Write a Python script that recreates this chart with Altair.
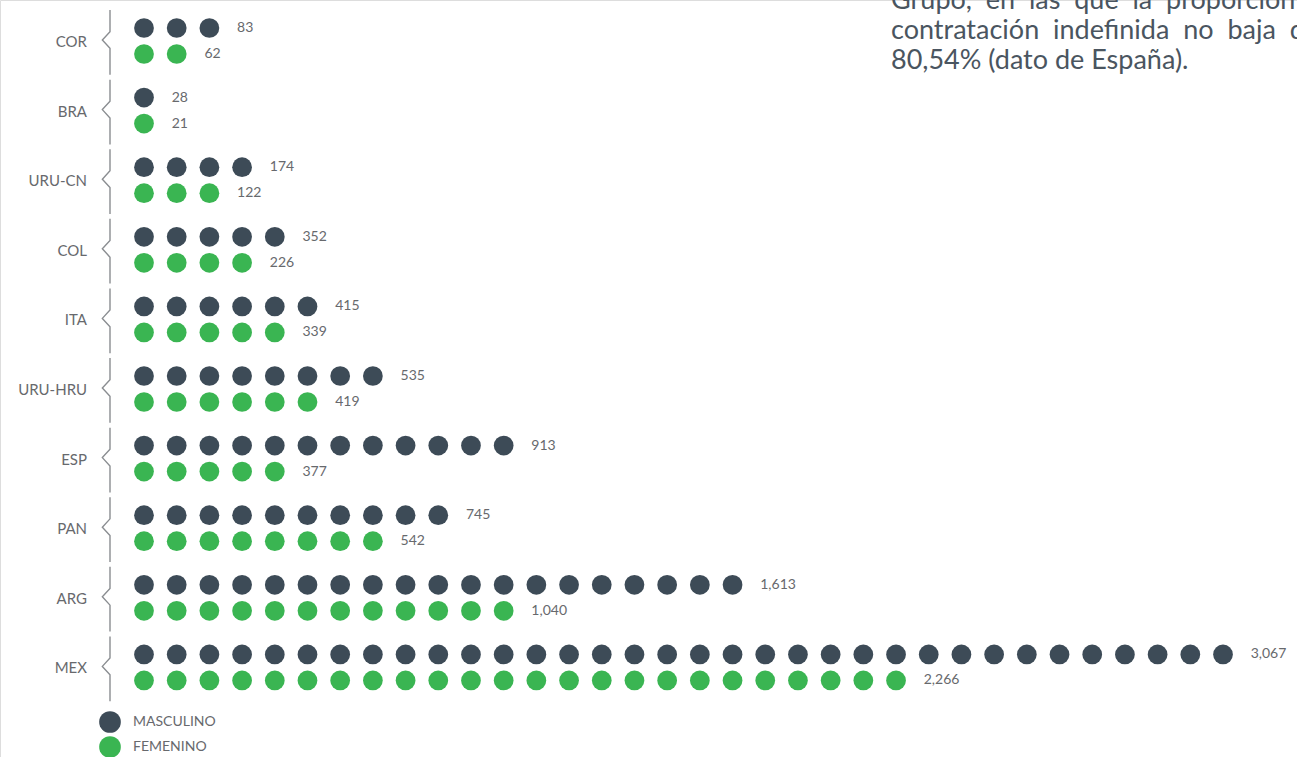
import altair as alt
import pandas as pd

countries = ["COR", "BRA", "URU-CN", "COL", "ITA", "URU-HRU", "ESP", "PAN", "ARG", "MEX"]
genders = ["MASCULINO", "FEMENINO"]
masc_values = [83, 28, 174, 352, 415, 535, 913, 745, 1613, 3067]
fem_values = [62, 21, 122, 226, 339, 419, 377, 542, 1040, 2266]
masc_dots = [3, 1, 4, 5, 6, 8, 12, 10, 19, 34]
fem_dots = [2, 1, 3, 4, 5, 6, 5, 8, 12, 24]

text_lines = [
    "Grupo,\u00a0\u00a0en\u00a0\u00a0las\u00a0\u00a0que\u00a0\u00a0la\u00a0\u00a0proporción\u00a0\u00a0de",
    "contratación\u00a0\u00a0indefinida\u00a0\u00a0no\u00a0\u00a0baja\u00a0\u00a0del",
    "80,54% (dato de España).",
]

dot_rows, label_rows = [], []
for c, mv, fv, md, fd in zip(countries, masc_values, fem_values, masc_dots, fem_dots):
    for g, v, n in ((genders[0], mv, md), (genders[1], fv, fd)):
        for i in range(n):
            dot_rows.append({"country": c, "gender": g, "i": i})
        label_rows.append({"country": c, "gender": g, "n": n, "value": v})
dots = pd.DataFrame(dot_rows)
labels = pd.DataFrame(label_rows)
cats = pd.DataFrame({"country": countries})

FONT = "Lato"
GRAY = "#67696d"
xscale = alt.Scale(domain=[-4.404, 35.263], nice=False, zero=False)
yscale = alt.Scale(domain=countries, range=[5.2, 701.2], paddingInner=0, paddingOuter=0)
yoff = alt.Scale(domain=genders, range=[9.8, 61.8])
cscale = alt.Scale(domain=genders, range=["#3d4b57", "#3ab552"])

points = alt.Chart(dots).mark_point(filled=True, size=390, opacity=1).encode(
    x=alt.X("i:Q", scale=xscale, axis=None),
    y=alt.Y("country:N", scale=yscale, axis=None),
    yOffset=alt.YOffset("gender:N", scale=yoff),
    color=alt.Color("gender:N", scale=cscale,
                    legend=alt.Legend(orient="none", legendX=99, legendY=711, title=None,
                                      symbolSize=470, symbolType="circle", labelFontSize=14,
                                      labelColor=GRAY, labelFont=FONT, rowPadding=3,
                                      symbolStrokeWidth=0, labelOffset=12)),
)

values = alt.Chart(labels).mark_text(align="left", baseline="middle", dx=-5,
                                     font=FONT, fontSize=14, color=GRAY).encode(
    x=alt.X("n:Q", scale=xscale, axis=None),
    y=alt.Y("country:N", scale=yscale, axis=None),
    yOffset=alt.YOffset("gender:N", scale=yoff),
    text=alt.Text("value:Q", format=","),
)

cat_text = alt.Chart(cats).mark_text(align="right", baseline="middle", font=FONT,
                                     fontSize=15, color=GRAY, dy=2).encode(
    x=alt.value(87),
    y=alt.Y("country:N", scale=yscale, axis=None),
    text="country:N",
)

brace = alt.Chart(cats).mark_point(
    shape="M0,-0.86L0,-0.24L-0.22,0L0,0.24L0,1", size=4844, filled=False,
    stroke="#8a8d91", strokeWidth=1.4, opacity=1,
).encode(
    x=alt.value(110),
    y=alt.Y("country:N", scale=yscale, axis=None),
)

note_layers = []
for k, line in enumerate(text_lines):
    note_layers.append(
        alt.Chart(pd.DataFrame({"t": [line]})).mark_text(
            align="left", baseline="alphabetic", font=FONT, fontSize=27, color="#4a5560"
        ).encode(x=alt.value(891), y=alt.value(9 + 30 * k), text="t:N")
    )

chart = alt.layer(brace, cat_text, points, values, *note_layers).properties(
    width=1297, height=757, padding=0,
    autosize=alt.AutoSizeParams(type="none"),
).configure_view(stroke=None).configure(background="white")

chart.save("out.html", embed_options={"renderer": "svg", "actions": False})
